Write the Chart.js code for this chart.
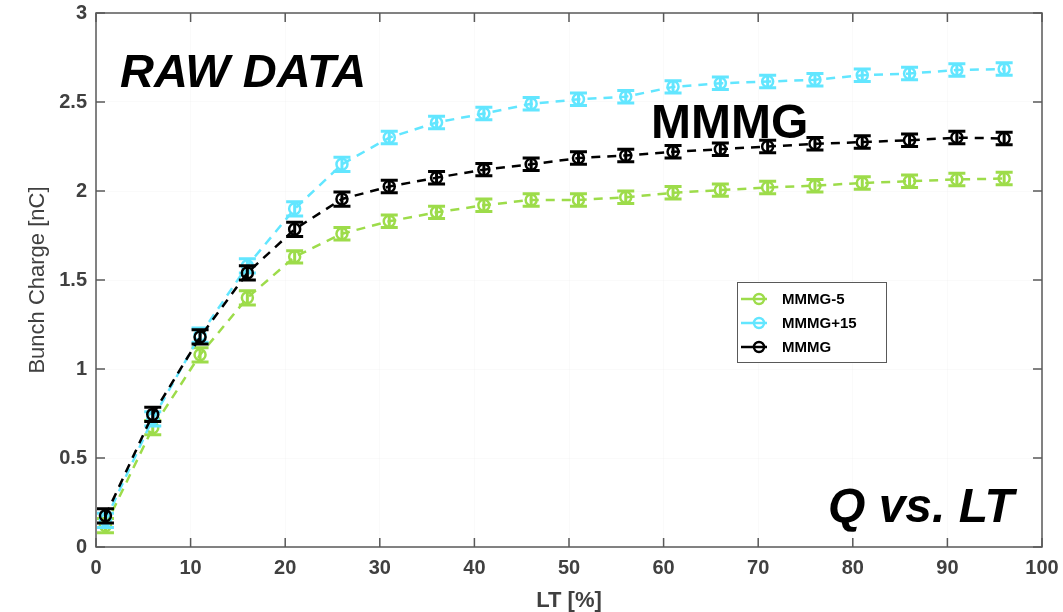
<!DOCTYPE html>
<html>
<head>
<meta charset="utf-8">
<script src="https://cdn.jsdelivr.net/npm/chart.js@4.4.1/dist/chart.umd.min.js"></script>
<style>
  html, body { margin: 0; padding: 0; background: #fff; }
  #wrap { width: 1063px; height: 612px; }
</style>
</head>
<body>
<div id="wrap"><canvas id="qChart" width="1063" height="612"></canvas></div>
<script>
// LT [%] positions of the measurements
const ltValues = [1, 6, 11, 16, 21, 26, 31, 36, 41, 46, 51, 56, 61, 66, 71, 76, 81, 86, 91, 96];

// bunch charge [nC]
const mmmgMinus5 = [0.12, 0.67, 1.08, 1.40, 1.63, 1.76, 1.83, 1.88, 1.92, 1.95, 1.95, 1.965, 1.99, 2.005, 2.02, 2.03, 2.045, 2.055, 2.065, 2.07];
const mmmgPlus15 = [0.15, 0.72, 1.19, 1.58, 1.90, 2.15, 2.30, 2.385, 2.435, 2.49, 2.515, 2.53, 2.585, 2.605, 2.615, 2.625, 2.65, 2.66, 2.68, 2.685];
const mmmg = [0.175, 0.745, 1.18, 1.54, 1.785, 1.955, 2.025, 2.075, 2.12, 2.15, 2.185, 2.2, 2.22, 2.235, 2.25, 2.265, 2.275, 2.285, 2.3, 2.295];

// error bar half heights [nC]
const errMinus5 = [0.04, 0.04, 0.04, 0.04, 0.035, 0.035, 0.035, 0.035, 0.035, 0.035, 0.035, 0.035, 0.035, 0.035, 0.035, 0.035, 0.035, 0.035, 0.035, 0.035];
const errPlus15 = [0.04, 0.04, 0.04, 0.04, 0.04, 0.04, 0.035, 0.035, 0.035, 0.035, 0.035, 0.035, 0.035, 0.035, 0.035, 0.035, 0.035, 0.035, 0.035, 0.035];
const errMmmg = [0.04, 0.04, 0.04, 0.04, 0.04, 0.04, 0.035, 0.035, 0.035, 0.035, 0.035, 0.035, 0.035, 0.035, 0.035, 0.035, 0.035, 0.035, 0.035, 0.035];

const seriesNames = ['MMMG-5', 'MMMG+15', 'MMMG'];
const seriesColors = ['#9ddc4a', '#62e6ff', '#000000'];

const xTickValues = [0, 10, 20, 30, 40, 50, 60, 70, 80, 90, 100];
const yTickValues = [0, 0.5, 1, 1.5, 2, 2.5, 3];

const FONT = '"Liberation Sans", Arial, sans-serif';
const AXIS_GREY = '#404040';

function points(ys) {
  return ltValues.map((x, i) => ({ x: x, y: ys[i] }));
}

function makeSet(idx, ys, errs, order) {
  return {
    label: seriesNames[idx],
    data: points(ys),
    errors: errs,
    borderColor: seriesColors[idx],
    backgroundColor: 'rgba(0,0,0,0)',
    pointBorderColor: seriesColors[idx],
    pointBackgroundColor: 'rgba(0,0,0,0)',
    pointRadius: 5.5,
    pointBorderWidth: 2.5,
    borderWidth: 2.5,
    borderDash: [9, 7],
    showLine: true,
    order: order
  };
}

// vertical error bars with caps
const errorBars = {
  id: 'errorBars',
  afterDatasetDraw(chart, args) {
    const ds = chart.data.datasets[args.index];
    const xs = chart.scales.x, ys = chart.scales.y;
    const c = chart.ctx;
    c.save();
    c.strokeStyle = ds.borderColor;
    c.lineWidth = 3;
    c.setLineDash([]);
    ds.data.forEach((p, i) => {
      const px = xs.getPixelForValue(p.x);
      const top = ys.getPixelForValue(p.y + ds.errors[i]);
      const bot = ys.getPixelForValue(p.y - ds.errors[i]);
      c.beginPath();
      c.moveTo(px, top); c.lineTo(px, bot);
      c.moveTo(px - 8.5, top); c.lineTo(px + 8.5, top);
      c.moveTo(px - 8.5, bot); c.lineTo(px + 8.5, bot);
      c.stroke();
    });
    c.restore();
  }
};

// box around the plot, inward ticks, legend and labels
const decorations = {
  id: 'decorations',
  afterDraw(chart) {
    const c = chart.ctx;
    const a = chart.chartArea;
    const xs = chart.scales.x, ys = chart.scales.y;
    c.save();
    c.strokeStyle = '#595959';
    c.lineWidth = 1.5;
    c.strokeRect(a.left, a.top, a.right - a.left, a.bottom - a.top);
    c.beginPath();
    xTickValues.forEach(v => {
      const px = xs.getPixelForValue(v);
      c.moveTo(px, a.bottom); c.lineTo(px, a.bottom - 9);
      c.moveTo(px, a.top); c.lineTo(px, a.top + 9);
    });
    yTickValues.forEach(v => {
      const py = ys.getPixelForValue(v);
      c.moveTo(a.left, py); c.lineTo(a.left + 9, py);
      c.moveTo(a.right, py); c.lineTo(a.right - 9, py);
    });
    c.stroke();

    // legend
    const lx = 737, ly = 282, lw = 149, lh = 80;
    c.fillStyle = '#ffffff';
    c.fillRect(lx, ly, lw, lh);
    c.strokeStyle = '#595959';
    c.lineWidth = 1;
    c.strokeRect(lx + 0.5, ly + 0.5, lw, lh);
    chart.data.datasets.forEach((ds, i) => {
      const cy = ly + 17 + i * 24;
      c.strokeStyle = ds.borderColor;
      c.lineWidth = 2.5;
      c.beginPath();
      c.moveTo(lx + 4, cy); c.lineTo(lx + 30, cy);
      c.stroke();
      c.lineWidth = 2.5;
      c.beginPath();
      c.arc(lx + 22, cy, 5, 0, Math.PI * 2);
      c.stroke();
      c.fillStyle = '#000000';
      c.font = 'bold 15px ' + FONT;
      c.textBaseline = 'middle';
      c.textAlign = 'left';
      c.fillText(ds.label, lx + 45, cy + 1);
    });

    // annotations
    c.fillStyle = '#000000';
    c.textBaseline = 'alphabetic';
    c.textAlign = 'left';
    c.font = 'italic bold 47px ' + FONT;
    c.fillText('RAW DATA', 120, 87);
    c.font = 'bold 48px ' + FONT;
    c.fillText('MMMG', 651, 138);
    c.font = 'italic bold 48px ' + FONT;
    c.fillText('Q vs. LT', 828, 522);
    c.restore();
  }
};

new Chart(document.getElementById('qChart').getContext('2d'), {
  type: 'scatter',
  data: {
    datasets: [
      makeSet(0, mmmgMinus5, errMinus5, 3),
      makeSet(1, mmmgPlus15, errPlus15, 2),
      makeSet(2, mmmg, errMmmg, 1)
    ]
  },
  options: {
    responsive: false,
    animation: false,
    devicePixelRatio: 1,
    layout: { padding: { top: 13, right: 21, left: 0, bottom: 0 } },
    plugins: {
      legend: { display: false },
      tooltip: { enabled: false }
    },
    scales: {
      x: {
        type: 'linear',
        min: 0,
        max: 100,
        afterBuildTicks: s => { s.ticks = xTickValues.map(v => ({ value: v })); },
        afterFit: s => { s.height = 65; s.paddingLeft = 0; s.paddingRight = 0; },
        grid: { color: 'rgba(0,0,0,0.018)', drawTicks: false },
        border: { display: false },
        ticks: { color: AXIS_GREY, padding: 9, font: { family: FONT, size: 20, weight: 'bold' }, maxRotation: 0 },
        title: { display: true, text: 'LT [%]', color: AXIS_GREY, padding: 0, font: { family: FONT, size: 22, weight: 'bold', lineHeight: 1 } }
      },
      y: {
        min: 0,
        max: 3,
        afterBuildTicks: s => { s.ticks = yTickValues.map(v => ({ value: v })); },
        afterFit: s => { s.width = 96; s.paddingTop = 0; s.paddingBottom = 0; },
        grid: { color: 'rgba(0,0,0,0.018)', drawTicks: false },
        border: { display: false },
        ticks: { color: AXIS_GREY, padding: 9, font: { family: FONT, size: 20, weight: 'bold' }, callback: v => String(v) },
        title: { display: true, text: 'Bunch Charge [nC]', color: AXIS_GREY, padding: { top: 27 }, font: { family: FONT, size: 22, lineHeight: 1 } }
      }
    }
  },
  plugins: [errorBars, decorations]
});
</script>
</body>
</html>
